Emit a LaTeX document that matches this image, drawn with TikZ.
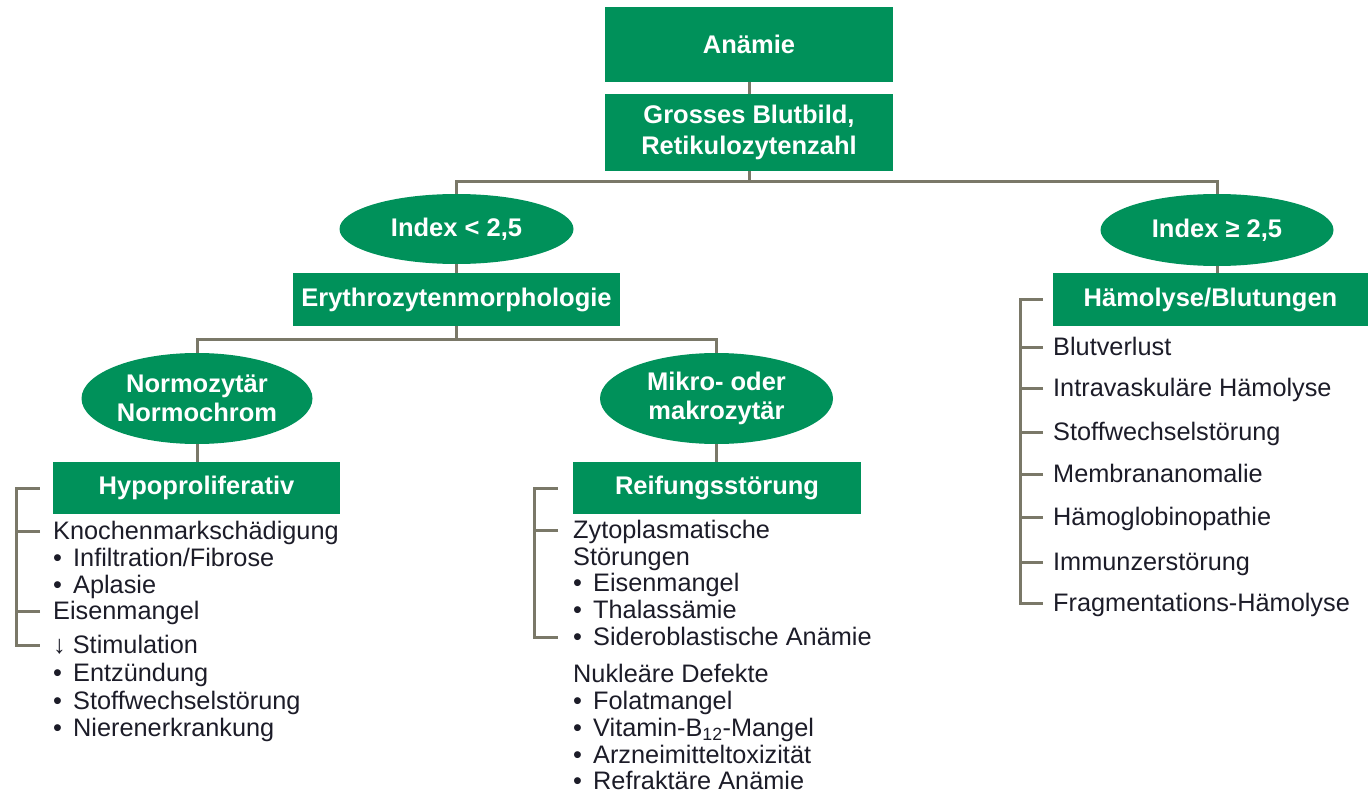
\documentclass[tikz,border=0pt]{standalone}
\usepackage{fontspec}
\setmainfont{Liberation Sans}
\usetikzlibrary{shapes.geometric}
\definecolor{grn}{RGB}{0,145,90}
\definecolor{lin}{RGB}{122,120,104}
\definecolor{txt}{RGB}{28,28,40}
\newcommand\itembul{\makebox[20pt][l]{•}}
\begin{document}
\begin{tikzpicture}[x=1pt,y=-1pt,
  box/.style={fill=grn, draw=none, inner sep=0pt, text=white, align=center,
    font=\fontsize{25.5}{31}\selectfont\bfseries},
  oval/.style={ellipse, fill=grn, draw=none, inner sep=0pt, text=white, align=center,
    font=\fontsize{25.5}{29}\selectfont\bfseries},
  item/.style={anchor=west, inner sep=0pt, text height=17pt, text depth=0pt,
    font=\fontsize{25.3}{27}\selectfont, text=txt},
  conn/.style={draw=lin, line width=3pt}]
\useasboundingbox (0,0) rectangle (1368,794);

% main nodes
\node[box, minimum width=288pt, minimum height=75pt] (anaemie) at (749,44.5) {Anämie};
\node[box, minimum width=288pt, minimum height=77pt] (gbb) at (749,132.5) {Grosses Blutbild,\\Retikulozytenzahl};
\node[oval, minimum width=234pt, minimum height=70pt] (ilo) at (456.5,229) {Index < 2,5};
\node[oval, minimum width=233pt, minimum height=72pt] (ihi) at (1217,230) {Index ≥ 2,5};
\node[box, minimum width=327pt, minimum height=53pt] (ery) at (456.5,299.5) {Erythrozytenmorphologie};
\node[oval, minimum width=231pt, minimum height=91pt] (normo) at (197,398.5) {Normozytär\\Normochrom};
\node[oval, minimum width=233pt, minimum height=91pt] (mikro) at (716.5,398.5) {Mikro- oder\\makrozytär};
\node[box, minimum width=287pt, minimum height=52pt] (hypo) at (196.5,488) {Hypoproliferativ};
\node[box, minimum width=288pt, minimum height=52pt] (reif) at (717,488) {Reifungsstörung};
\node[box, minimum width=315pt, minimum height=53pt] (haem) at (1210.5,299.5) {Hämolyse/Blutungen};

% connectors
\coordinate (j1) at (749,182);
\coordinate (j2) at (456.5,339);
\draw[conn] (anaemie.south) -- (gbb.north);
\draw[conn] (gbb.south) -- (j1);
\draw[conn] (ilo.north) |- (j1) -| (ihi.north);
\draw[conn] (ilo.south) -- (ery.north);
\draw[conn] (ery.south) -- (j2);
\draw[conn] (normo.north) |- (j2) -| (mikro.north);
\draw[conn] (normo.south) -- (normo.south |- hypo.north);
\draw[conn] (mikro.south) -- (mikro.south |- reif.north);
\draw[conn] (ihi.south) -- (ihi.south |- haem.north);

% left list
\node[item] (l1) at (53,531) {Knochenmarkschädigung};
\node[item] (l2) at (53,558) {\itembul Infiltration/Fibrose};
\node[item] (l3) at (53,585) {\itembul Aplasie};
\node[item] (l4) at (53,611) {Eisenmangel};
\node[item] (l5) at (53,645) {↓ Stimulation};
\node[item] (l6) at (53,673) {\itembul Entzündung};
\node[item] (l7) at (53,701) {\itembul Stoffwechselstörung};
\node[item] (l8) at (53,728) {\itembul Nierenerkrankung};

% middle list
\node[item] (m1) at (573,530) {Zytoplasmatische};
\node[item] (m2) at (573,557) {Störungen};
\node[item] (m3) at (573,583) {\itembul Eisenmangel};
\node[item] (m4) at (573,610) {\itembul Thalassämie};
\node[item] (m5) at (573,637) {\itembul Sideroblastische Anämie};
\node[item] (m6) at (573,674) {Nukleäre Defekte};
\node[item] (m7) at (573,701) {\itembul Folatmangel};
\node[item] (m8) at (573,728) {\itembul Vitamin-B\textsubscript{12}-Mangel};
\node[item] (m9) at (573,755) {\itembul Arzneimitteltoxizität};
\node[item] (m10) at (573,781) {\itembul Refraktäre Anämie};

% right list
\node[item] (r1) at (1053,347) {Blutverlust};
\node[item] (r2) at (1053,388) {Intravaskuläre Hämolyse};
\node[item] (r3) at (1053,432) {Stoffwechselstörung};
\node[item] (r4) at (1053,474) {Membrananomalie};
\node[item] (r5) at (1053,517) {Hämoglobinopathie};
\node[item] (r6) at (1053,562) {Immunzerstörung};
\node[item] (r7) at (1053,603) {Fragmentations-Hämolyse};

% brackets
\draw[conn] ([xshift=-13pt]hypo.west) -- ++(-23pt,0) |- ([xshift=-13pt]l5.west);
\draw[conn] ([xshift=-13pt]l1.west) -- ++(-23pt,0);
\draw[conn] ([xshift=-13pt]l4.west) -- ++(-23pt,0);

\draw[conn] ([xshift=-15pt]reif.west) -- ++(-23pt,0) |- ([xshift=-15pt]m5.west);
\draw[conn] ([xshift=-15pt]m1.west) -- ++(-23pt,0);

\draw[conn] ([xshift=-10pt]haem.west) -- ++(-22pt,0) |- ([xshift=-10pt]r7.west);
\foreach \n in {r1,r2,r3,r4,r5,r6}{
  \draw[conn] ([xshift=-10pt]\n.west) -- ++(-22pt,0);
}
\end{tikzpicture}
\end{document}
